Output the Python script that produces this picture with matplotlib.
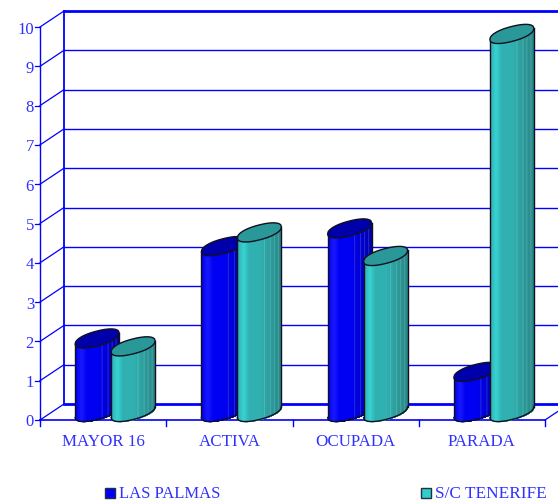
import numpy as np
import matplotlib
matplotlib.use("Agg")
import matplotlib.pyplot as plt

categories = ["MAYOR 16", "ACTIVA", "OCUPADA", "PARADA"]
las_palmas = [1.87, 4.22, 4.67, 1.02]
tenerife = [1.67, 4.57, 3.97, 9.62]
yticks = list(range(11))
series_names = ["LAS PALMAS", "S/C TENERIFE"]

BLUE = "#0000ff"
TEXT = "#3030ff"
EDGE = "#101020"

# pixel scale of the chart, the 3D look is only an offset
px_x = 126.25
px_y = 39.3
left = 40
base = 421
depth_x = 24 / px_x
depth_y = 16 / px_y

fig = plt.figure(figsize=(5.58, 5.02), dpi=100)
ax = fig.add_axes([0, 0, 1, 1])
ax.set_xlim(-left / px_x, (558 - left) / px_x)
ax.set_ylim(-(502 - base) / px_y, base / px_y)
ax.axis("off")

n = len(categories)

# walls
for y in yticks:
    thick = 2 if y in (0, 10) else 1
    ax.plot([depth_x, n + depth_x], [y + depth_y] * 2, color=BLUE, lw=thick, zorder=1)
    ax.plot([0, depth_x], [y, y + depth_y], color=BLUE, lw=0.9, zorder=1)
    ax.plot([-5 / px_x, 0], [y, y], color=BLUE, lw=0.9, zorder=1)
    ax.text(-6 / px_x, y - 1.5 / px_y, str(y), color=TEXT, fontsize=12, ha="right", va="center",
            family="Liberation Serif")
ax.plot([0, 0], [0, 10], color=BLUE, lw=1, zorder=1)
ax.plot([depth_x, depth_x], [depth_y, 10 + depth_y], color=BLUE, lw=1.3, zorder=1)

# floor
ax.plot([0, n], [0, 0], color=BLUE, lw=1.2, zorder=1)
ax.plot([n, n + depth_x], [0, depth_y], color=BLUE, lw=0.9, zorder=1)
for i in range(n + 1):
    ax.plot([i, i], [0, -6 / px_y], color=BLUE, lw=1, zorder=1)
for i, name in enumerate(categories):
    ax.text(i + 0.5, -21 / px_y, name, color=TEXT, fontsize=12.2, ha="center", va="center",
            family="Liberation Serif")


def shade(rgb_left, rgb_mid, rgb_right, u):
    # u goes 0..1 across the cylinder
    if u < 0.25:
        c = np.array(rgb_mid) + (np.array(rgb_left) - np.array(rgb_mid)) * (1 - abs(u - 0.12) / 0.13)
    elif u < 0.5:
        c = np.array(rgb_mid)
    else:
        c = np.array(rgb_mid) + (np.array(rgb_right) - np.array(rgb_mid)) * ((u - 0.5) / 0.5)
    for s in (0.6, 0.72, 0.82, 0.9):
        if abs(u - s) < 0.012:
            c = c + (1 - c) * 0.16
    return tuple(c)


def rim(u):
    # half height of the end cap, a bit squarer than an ellipse
    return (1 - np.abs(u) ** 2.2) ** (1 / 2.2)


def cylinder(xc, value, light, mid, dark, top_col, z):
    a = 22 / px_x
    k = 5.5 / px_y
    b = 7.5 / px_y
    yc = depth_y / 2
    us = np.linspace(-1, 1, 45)
    # paint left to right, each strip runs to the far side so no seams show
    for u0 in us[:-1]:
        uu = np.linspace(u0, 1, 30)
        lower = yc + k * uu - b * rim(uu)
        upper = value + yc + k * uu - b * rim(uu)
        col = shade(light, mid, dark, (u0 + 1) / 2)
        ax.fill_between(xc + a * uu, lower, upper, color=col, lw=0, zorder=z)
    uu = np.linspace(-1, 1, 80)
    ex = np.r_[uu, uu[::-1]]
    ey = np.r_[k * uu + b * rim(uu), (k * uu - b * rim(uu))[::-1]]
    ax.fill(xc + a * ex, value + yc + ey, fc=top_col, ec=EDGE, lw=1, zorder=z + 0.2)
    # outline
    ax.plot(xc + a * uu, yc + k * uu - b * rim(uu), color=EDGE, lw=1, zorder=z + 0.1)
    ax.plot([xc - a, xc - a], [yc - k, value + yc - k], color=EDGE, lw=1, zorder=z + 0.1)
    ax.plot([xc + a, xc + a], [yc + k, value + yc + k], color=EDGE, lw=1, zorder=z + 0.1)


off = 18 / px_x
for i in range(n):
    xc = i + 0.5 + depth_x / 2
    cylinder(xc - off, las_palmas[i], (0.1, 0.1, 1), (0, 0, 0.95), (0, 0, 0.66), "#0000aa", 3 + i * 2)
    cylinder(xc + off, tenerife[i], (0.22, 0.83, 0.83), (0.19, 0.69, 0.69), (0.15, 0.52, 0.52), "#2a9898", 4 + i * 2)

# legend
leg_y = -(494 - base) / px_y
for x0, name, col, size in zip([(105 - left) / px_x, (421 - left) / px_x], series_names, [BLUE, "#33cccc"], [12, 12.4]):
    ax.plot([x0 + 5 / px_x], [leg_y], marker="s", ms=7.5, mfc=col, mec="#203040", mew=1, zorder=20)
    ax.text(x0 + 14 / px_x, leg_y - 0.5 / px_y, name, color=TEXT, fontsize=size, ha="left", va="center",
            family="Liberation Serif")

fig.savefig("out.png", dpi=100)
